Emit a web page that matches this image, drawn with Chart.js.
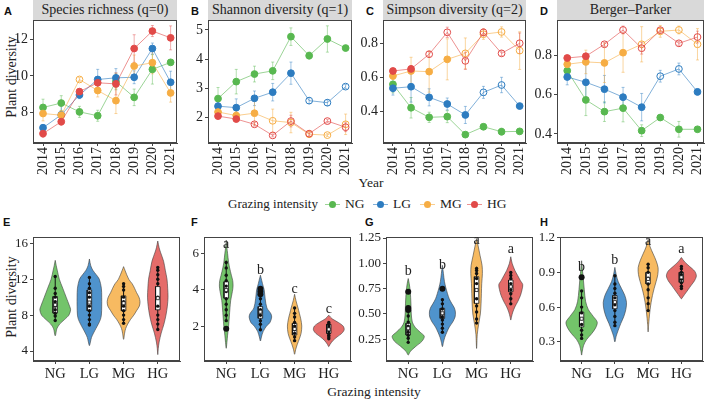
<!DOCTYPE html>
<html><head><meta charset="utf-8">
<script src="https://cdn.jsdelivr.net/npm/chart.js@4.4.0/dist/chart.umd.min.js"></script>
<style>
body{margin:0;background:#fff;width:706px;height:400px;position:relative;overflow:hidden;font-family:"Liberation Serif","Times New Roman",serif;color:#222}
canvas{position:absolute}
.strip{position:absolute;top:0;height:20px;background:#d9d9d9;font-size:14px;line-height:20px;text-align:center;color:#222;white-space:nowrap}
.pl{position:absolute;font-family:"Liberation Sans",Arial,sans-serif;font-weight:bold;font-size:11px;color:#111;line-height:11px}
.c{position:absolute;white-space:nowrap;transform:translate(-50%,-50%)}
.r{position:absolute;white-space:nowrap;transform:translate(-50%,-50%) rotate(-90deg)}
.lg{position:absolute;white-space:nowrap;font-size:13.5px;line-height:14px}
</style></head><body>
<div class="strip" style="left:33px;width:144px">Species richness (q=0)</div>
<div class="strip" style="left:208px;width:144px">Shannon diversity (q=1)</div>
<div class="strip" style="left:383px;width:143px">Simpson diversity (q=2)</div>
<div class="strip" style="left:557px;width:147px">Berger–Parker</div>
<div class="pl" style="left:4px;top:6px">A</div>
<div class="pl" style="left:191px;top:6px">B</div>
<div class="pl" style="left:366px;top:6px">C</div>
<div class="pl" style="left:540px;top:6px">D</div>
<div class="pl" style="left:3px;top:217px">E</div>
<div class="pl" style="left:191px;top:217px">F</div>
<div class="pl" style="left:365px;top:217px">G</div>
<div class="pl" style="left:540px;top:217px">H</div>
<div class="r" style="left:12px;top:77px;font-size:14px">Plant diversity</div>
<div class="r" style="left:12px;top:297px;font-size:14px">Plant diversity</div>
<div class="c" style="left:371px;top:183px;font-size:13.5px">Year</div>
<div class="c" style="left:374px;top:392px;font-size:13.5px">Grazing intensity</div>
<div id="legend"></div>
<canvas id="cA"></canvas><canvas id="cB"></canvas><canvas id="cC"></canvas><canvas id="cD"></canvas>
<canvas id="cE"></canvas><canvas id="cF"></canvas><canvas id="cG"></canvas><canvas id="cH"></canvas>
<script>
// ---------------- DATA ----------------
const years = [2014, 2015, 2016, 2017, 2018, 2019, 2020, 2021];
const groups = ['NG', 'LG', 'MG', 'HG'];

// Panel A: species richness (q=0) — means and error (se)
const A_NG = [8.29, 8.53, 8.05, 7.84, 9.70, 8.84, 10.36, 10.74];
const A_LG = [7.19, 7.89, 8.97, 9.81, 9.90, 9.93, 11.49, 9.66];
const A_MG = [7.96, 7.87, 9.81, 9.21, 8.66, 10.54, 10.72, 9.08];
const A_HG = [6.87, 7.52, 9.15, 9.63, 9.57, 11.49, 12.44, 12.07];
const A_NG_err = [0.45, 0.4, 0.3, 0.3, 0.45, 0.45, 0.8, 0.1];
const A_LG_err = [0.15, 0.5, 0.2, 0.55, 0.5, 0.35, 0.3, 0.6];
const A_MG_err = [0.4, 0.25, 0.1, 0.35, 0.7, 0.6, 0.6, 0.5];
const A_HG_err = [0.2, 0.2, 0.15, 0.25, 0.6, 0.75, 0.3, 0.65];
const A_open = [[0,0,0,0,0,0,0,0],[0,0,0,0,0,0,0,0],[0,0,1,0,0,0,0,0],[0,0,0,0,0,0,0,0]];

// Panel B: Shannon diversity (q=1)
const B_NG = [2.65, 3.23, 3.49, 3.60, 4.77, 4.12, 4.69, 4.38];
const B_LG = [2.39, 2.34, 2.66, 2.87, 3.52, 2.58, 2.51, 3.06];
const B_MG = [2.19, 2.07, 2.15, 1.89, 1.83, 1.43, 1.40, 1.77];
const B_HG = [2.05, 1.95, 1.77, 1.39, 1.88, 1.45, 1.88, 1.67];
const B_NG_err = [0.38, 0.42, 0.27, 0.3, 0.3, 0.12, 0.45, 0.05];
const B_LG_err = [0.12, 0.3, 0.25, 0.3, 0.38, 0.1, 0.1, 0.07];
const B_MG_err = [0.12, 0.15, 0.4, 0.4, 0.35, 0.1, 0.05, 0.35];
const B_HG_err = [0.05, 0.08, 0.06, 0.05, 0.2, 0.08, 0.06, 0.15];
const B_open = [[0,0,0,0,0,0,0,0],[0,0,0,0,0,1,1,1],[0,0,0,1,1,1,1,1],[0,0,1,1,1,1,1,1]];

// Panel C: Simpson diversity (q=2)
const C_NG = [0.560, 0.423, 0.367, 0.371, 0.266, 0.312, 0.283, 0.285];
const C_LG = [0.537, 0.546, 0.484, 0.445, 0.381, 0.513, 0.556, 0.433];
const C_MG = [0.609, 0.638, 0.634, 0.706, 0.741, 0.853, 0.866, 0.757];
const C_HG = [0.638, 0.650, 0.736, 0.864, 0.697, 0.864, 0.741, 0.800];
const C_NG_err = [0.05, 0.06, 0.03, 0.035, 0.015, 0.01, 0.02, 0.01];
const C_LG_err = [0.04, 0.09, 0.05, 0.035, 0.05, 0.035, 0.045, 0.01];
const C_MG_err = [0.02, 0.08, 0.12, 0.12, 0.09, 0.03, 0.03, 0.11];
const C_HG_err = [0.01, 0.02, 0.015, 0.03, 0.05, 0.02, 0.015, 0.06];
const C_open = [[0,0,0,0,0,0,0,0],[0,0,0,0,0,1,1,0],[0,0,0,0,1,1,1,1],[0,0,1,1,1,1,1,1]];

// Panel D: Berger–Parker
const D_NG = [0.723, 0.574, 0.514, 0.532, 0.417, 0.484, 0.424, 0.424];
const D_LG = [0.691, 0.664, 0.629, 0.588, 0.537, 0.695, 0.732, 0.615];
const D_MG = [0.756, 0.768, 0.763, 0.815, 0.858, 0.924, 0.931, 0.858];
const D_HG = [0.788, 0.797, 0.858, 0.931, 0.838, 0.930, 0.863, 0.895];
const D_NG_err = [0.01, 0.08, 0.05, 0.07, 0.03, 0.015, 0.04, 0.01];
const D_LG_err = [0.04, 0.1, 0.07, 0.05, 0.07, 0.03, 0.03, 0.015];
const D_MG_err = [0.02, 0.06, 0.1, 0.1, 0.09, 0.03, 0.02, 0.08];
const D_HG_err = [0.01, 0.01, 0.01, 0.02, 0.03, 0.01, 0.01, 0.03];
const D_open = [[0,0,0,0,0,0,0,0],[0,0,0,0,0,1,1,0],[0,0,0,0,1,1,1,1],[0,0,1,1,1,1,1,1]];

// Top-row y ticks
const A_ticks = [8, 10, 12], A_tickLabels = ['8', '10', '12'];
const B_ticks = [2, 3, 4, 5], B_tickLabels = ['2', '3', '4', '5'];
const C_ticks = [0.4, 0.6, 0.8], C_tickLabels = ['0.4', '0.6', '0.8'];
const D_ticks = [0.4, 0.6, 0.8], D_tickLabels = ['0.4', '0.6', '0.8'];

// Violin outlines: y levels (top→bottom) and half-widths, per group NG, LG, MG, HG
const E_vioY = [[14.1,13.5,13,12,11,10,9,8.6,8,7.5,7,6.5,5.7],
                [14.25,13.5,13,12.5,12,11,10,9,8,7.5,7,6.5,6,5.5,5,4.6],
                [13.4,13,12,11.5,11,10.5,10,9.5,9,8.5,8,7.5,7,6.5,6,5.3],
                [16.25,15.5,15,14,13,12,11,10,9,8,7,6,5,4.3,3.6]];
const E_vioW = [[0,0.03,0.06,0.12,0.22,0.32,0.42,0.45,0.4,0.27,0.13,0.05,0],
                [0,0.04,0.1,0.2,0.29,0.35,0.36,0.36,0.35,0.32,0.26,0.19,0.12,0.06,0.03,0],
                [0,0.04,0.15,0.25,0.32,0.38,0.45,0.48,0.46,0.38,0.3,0.2,0.12,0.06,0.03,0],
                [0,0.04,0.08,0.17,0.22,0.27,0.29,0.3,0.28,0.24,0.18,0.1,0.04,0.015,0]];
const F_vioY = [[6.73,6.3,6,5.5,5.2,4.8,4.5,4.2,3.9,3.4,3,2.5,2,1.5,1.1,0.78],
                [4.8,4.5,4.2,4,3.5,3,2.7,2.5,2.2,2,1.7,1.4,1.18],
                [3.75,3.4,3,2.7,2.4,2,1.6,1.3,1,0.7,0.45],
                [2.6,2.4,2.2,2,1.8,1.6,1.4,1.2,1,0.87]];
const F_vioW = [[0,0.02,0.04,0.07,0.1,0.15,0.19,0.2,0.18,0.13,0.11,0.09,0.07,0.04,0.02,0],
                [0,0.04,0.08,0.11,0.14,0.19,0.3,0.33,0.28,0.18,0.08,0.03,0],
                [0,0.04,0.1,0.14,0.18,0.21,0.19,0.14,0.08,0.03,0],
                [0,0.1,0.28,0.42,0.45,0.38,0.24,0.12,0.04,0]];
const G_vioY = [[0.85,0.8,0.72,0.6,0.5,0.42,0.37,0.32,0.28,0.23,0.18,0.13,0.095],
                [0.98,0.9,0.82,0.76,0.7,0.65,0.6,0.56,0.52,0.47,0.42,0.37,0.32,0.27,0.22,0.177],
                [1.245,1.18,1.08,0.98,0.9,0.8,0.7,0.6,0.5,0.4,0.3,0.16],
                [1.065,1.0,0.93,0.88,0.83,0.79,0.74,0.68,0.62,0.57,0.52,0.47,0.44]];
const G_vioW = [[0,0.03,0.06,0.08,0.09,0.12,0.2,0.35,0.47,0.4,0.22,0.06,0],
                [0,0.03,0.06,0.1,0.15,0.2,0.28,0.35,0.38,0.37,0.3,0.2,0.13,0.07,0.03,0],
                [0,0.04,0.1,0.16,0.17,0.15,0.14,0.13,0.11,0.06,0.02,0],
                [0,0.04,0.12,0.2,0.28,0.35,0.33,0.28,0.2,0.12,0.06,0.02,0]];
const H_vioY = [[1.0,0.93,0.85,0.75,0.65,0.58,0.52,0.47,0.42,0.37,0.32,0.27,0.22,0.186],
                [0.943,0.88,0.82,0.76,0.7,0.64,0.58,0.52,0.46,0.4,0.35,0.3],
                [1.186,1.12,1.06,1.0,0.94,0.88,0.82,0.76,0.7,0.64,0.58,0.5,0.45,0.386],
                [1.028,0.99,0.95,0.91,0.87,0.83,0.79,0.75,0.71,0.69,0.672]];
const H_vioW = [[0,0.02,0.05,0.08,0.12,0.2,0.35,0.47,0.42,0.3,0.15,0.06,0.02,0],
                [0,0.04,0.1,0.2,0.3,0.35,0.33,0.27,0.18,0.1,0.04,0],
                [0,0.06,0.15,0.24,0.3,0.29,0.24,0.18,0.13,0.09,0.06,0.03,0.015,0],
                [0,0.1,0.25,0.4,0.45,0.4,0.3,0.2,0.1,0.05,0]];

// Box stats: [lower whisker, Q1, median, Q3, upper whisker]
const E_box = [[7.37,8.22,9.14,10.07,12.4],[6.85,8.48,9.4,10.8,12.2],[7.1,8.48,9.33,10.14,11.55],[6.37,8.59,9.89,11.18,13.4]];
const F_box = [[2.34,3.53,3.98,4.44,5.6],[1.78,2.43,2.79,3.07,4.17],[1.18,1.51,1.84,2.15,3.01],[1.33,1.6,1.82,2.1,2.24]];
const G_box = [[0.21,0.292,0.359,0.408,0.556],[0.31,0.457,0.507,0.556,0.655],[0.408,0.605,0.737,0.868,0.967],[0.589,0.72,0.77,0.835,0.917]];
const H_box = [[0.329,0.429,0.5,0.557,0.743],[0.443,0.586,0.643,0.7,0.871],[0.572,0.8,0.843,0.9,0.972],[0.757,0.814,0.857,0.9,0.957]];

// Observations (small dots) and outliers (large dots)
const E_pts = [[12.3,11.0,10.4,10.0,9.5,9.0,8.6,8.2,7.9,7.4],[12.2,11.5,11.0,10.5,10.0,9.0,8.5,8.0,7.5,7.0,6.9],[11.5,11.2,10.8,10.0,9.5,9.0,8.5,8.0,7.5,7.1],[13.3,13.0,12.5,12.0,11.5,10.0,9.0,8.0,7.5,7.0,6.4]];
const E_out = [[],[],[],[]];
const F_pts = [[5.5,5.2,4.8,4.5,4.2,3.9,3.5,3.2,2.9,2.6,2.3],[4.05,3.95,3.85,3.7,3.5,3.2,2.9,2.6,2.3,2.1,1.8],[3.0,2.7,2.5,2.2,2.0,1.8,1.6,1.4,1.2],[2.2,2.1,2.0,1.9,1.75,1.6,1.5,1.4,1.3]];
const F_out = [[1.85],[4.05,3.9,3.75],[],[]];
const G_pts = [[0.48,0.42,0.38,0.35,0.32,0.29,0.26,0.22],[0.64,0.6,0.55,0.5,0.47,0.44,0.4,0.36,0.32],[0.95,0.93,0.9,0.85,0.8,0.65,0.58,0.52,0.45,0.41],[0.91,0.88,0.85,0.8,0.77,0.74,0.7,0.65,0.6]];
const G_out = [[0.72,0.56,0.54],[0.75],[],[]];
const H_pts = [[0.74,0.68,0.6,0.55,0.5,0.45,0.4,0.36,0.33],[0.87,0.8,0.76,0.72,0.68,0.62,0.57,0.52,0.47,0.44],[0.97,0.94,0.9,0.85,0.8,0.75,0.68,0.63,0.57],[0.95,0.93,0.9,0.88,0.86,0.84,0.81,0.78,0.76]];
const H_out = [[0.857],[],[],[]];

// Significance letters and their heights
const F_letters = ['a','b','c','c'], F_letterY = [6.5, 5.08, 4.04, 2.94];
const G_letters = ['b','b','a','a'], G_letterY = [0.917, 0.983, 1.223, 1.138];
const H_letters = ['b','b','a','a'], H_letterY = [0.943, 1.0, 1.171, 1.1];

// Bottom-row y ticks
const E_ticks = [4, 8, 12, 16], E_tickLabels = ['4', '8', '12', '16'];
const F_ticks = [2, 4, 6], F_tickLabels = ['2', '4', '6'];
const G_ticks = [0.25, 0.5, 0.75, 1.0, 1.25], G_tickLabels = ['0.25', '0.50', '0.75', '1.00', '1.25'];
const H_ticks = [0.3, 0.6, 0.9, 1.2], H_tickLabels = ['0.3', '0.6', '0.9', '1.2'];

// ---------------- STYLE ----------------
const SERIF = '"Liberation Serif", "Times New Roman", serif';
const COL = ['rgb(88,184,80)', 'rgb(45,124,192)', 'rgb(246,173,68)', 'rgb(225,74,72)'];
const LINE = ['rgba(88,184,80,0.6)', 'rgba(45,124,192,0.6)', 'rgba(246,173,68,0.6)', 'rgba(225,74,72,0.6)'];
const ERR = ['rgba(88,184,80,0.45)', 'rgba(45,124,192,0.45)', 'rgba(246,173,68,0.5)', 'rgba(225,74,72,0.45)'];
const VIO = ['rgba(100,190,90,0.9)', 'rgba(60,135,200,0.9)', 'rgba(246,178,80,0.9)', 'rgba(226,92,90,0.9)'];

Chart.defaults.font.family = SERIF;
Chart.defaults.color = '#222';

const framePlugin = {
  id: 'frame',
  afterDatasetsDraw(chart) {
    const a = chart.chartArea, ctx = chart.ctx;
    ctx.save(); ctx.strokeStyle = '#444'; ctx.lineWidth = 1;
    ctx.strokeRect(Math.round(a.left) + 0.5, Math.round(a.top) + 0.5, Math.round(a.right - a.left) - 1, Math.round(a.bottom - a.top) - 1);
    ctx.restore();
  }
};
const errPlugin = {
  id: 'errbars',
  beforeDatasetsDraw(chart, args, opts) {
    if (!opts || !opts.sets) return;
    const ctx = chart.ctx, xs = chart.scales.x, ys = chart.scales.y;
    ctx.save(); ctx.lineWidth = 1;
    for (const s of opts.sets) {
      ctx.strokeStyle = s.color;
      for (let i = 0; i < s.xv.length; i++) {
        const x = xs.getPixelForValue(s.xv[i]);
        const y1 = ys.getPixelForValue(s.v[i] - s.e[i]);
        const y2 = ys.getPixelForValue(s.v[i] + s.e[i]);
        ctx.beginPath();
        ctx.moveTo(x, y1); ctx.lineTo(x, y2);
        ctx.moveTo(x - 1.5, y1); ctx.lineTo(x + 1.5, y1);
        ctx.moveTo(x - 1.5, y2); ctx.lineTo(x + 1.5, y2);
        ctx.stroke();
      }
    }
    ctx.restore();
  }
};
const letterPlugin = {
  id: 'letters',
  afterDatasetsDraw(chart, args, opts) {
    if (!opts || !opts.text) return;
    const ctx = chart.ctx, xs = chart.scales.x, ys = chart.scales.y;
    ctx.save(); ctx.fillStyle = '#222'; ctx.font = '14px ' + SERIF;
    ctx.textAlign = 'center'; ctx.textBaseline = 'middle';
    opts.text.forEach((t, i) => ctx.fillText(t, xs.getPixelForValue(i), ys.getPixelForValue(opts.y[i])));
    ctx.restore();
  }
};
Chart.register(framePlugin, errPlugin, letterPlugin);

function tickLabel(ticks, labels) {
  return v => { const i = ticks.findIndex(t => Math.abs(t - v) < 1e-9); return i >= 0 ? labels[i] : ''; };
}

function setupCanvas(id, g, yW, xH, padTop, padRight) {
  const cv = document.getElementById(id);
  cv.width = yW + (g.R - g.L) + padRight;
  cv.height = padTop + (g.B - g.T) + xH;
  cv.style.left = (g.L - yW) + 'px';
  cv.style.top = (g.T - padTop) + 'px';
  cv.style.width = cv.width + 'px'; cv.style.height = cv.height + 'px';
  return cv;
}

function axes(yW, xH, xMin, xMax, xTicks, xLabelFn, xFont, xRot, yMin, yMax, yTicks, yLabels, yFont) {
  return {
    x: {
      type: 'linear', min: xMin, max: xMax,
      afterBuildTicks: s => { s.ticks = xTicks.map(v => ({ value: v })); },
      afterFit: s => { s.height = xH; s.paddingLeft = 0; s.paddingRight = 0; },
      ticks: { autoSkip: false, minRotation: xRot, maxRotation: xRot, padding: 1, font: { family: SERIF, size: xFont }, color: '#222', callback: xLabelFn },
      grid: { display: true, drawOnChartArea: false, drawTicks: true, tickLength: 3, color: '#444' },
      border: { display: true, color: '#444' }
    },
    y: {
      type: 'linear', min: yMin, max: yMax,
      afterBuildTicks: s => { s.ticks = yTicks.map(v => ({ value: v })); },
      afterFit: s => { s.width = yW; s.paddingTop = 0; s.paddingBottom = 0; },
      ticks: { padding: 2, font: { family: SERIF, size: yFont }, color: '#222', callback: tickLabel(yTicks, yLabels) },
      grid: { display: true, drawOnChartArea: false, drawTicks: true, tickLength: 3, color: '#444' },
      border: { display: true, color: '#444' }
    }
  };
}

function topChart(id, g, series, errs, open, yMin, yMax, yTicks, yLabels) {
  const yW = 30, xH = 40, padTop = 10, padRight = 6;
  const cv = setupCanvas(id, g, yW, xH, padTop, padRight);
  const datasets = series.map((vals, k) => ({
    data: years.map((yr, i) => ({ x: yr, y: vals[i] })),
    showLine: true, borderColor: LINE[k], borderWidth: 1,
    pointRadius: 3.4, pointBorderWidth: 1,
    pointBackgroundColor: open[k].map(o => o ? 'rgba(255,255,255,0)' : COL[k]),
    pointBorderColor: COL[k], order: 3 - k
  }));
  new Chart(cv, {
    type: 'scatter',
    data: { datasets },
    options: {
      responsive: false, animation: false, events: [],
      layout: { padding: { top: padTop, right: padRight, left: 0, bottom: 0 } },
      plugins: { legend: { display: false }, tooltip: { enabled: false },
        errbars: { sets: series.map((vals, k) => ({ xv: years, v: vals, e: errs[k], color: ERR[k] })) } },
      scales: axes(yW, xH, 2013.45, 2021.35, years, v => String(v), 14, 90, yMin, yMax, yTicks, yLabels, 14)
    }
  });
}

function bottomChart(id, g, vioY, vioW, box, pts, outs, yMin, yMax, yTicks, yLabels, letters, letterY) {
  const yW = 30, xH = 22, padTop = 10, padRight = 6;
  const cv = setupCanvas(id, g, yW, xH, padTop, padRight);
  const datasets = [];
  const bw = 0.065;
  groups.forEach((name, k) => {
    const right = vioY[k].map((y, i) => ({ x: k + vioW[k][i], y }));
    const left = vioY[k].map((y, i) => ({ x: k - vioW[k][i], y })).reverse();
    datasets.push({ data: right.concat(left.slice(1)), showLine: true, fill: 'shape', tension: 0.3,
      backgroundColor: VIO[k], borderColor: 'rgba(60,60,60,0.85)', borderWidth: 0.7, pointRadius: 0, order: 10 });
    const b = box[k];
    datasets.push({ data: [{ x: k, y: b[0] }, { x: k, y: b[4] }], showLine: true, borderColor: '#111', borderWidth: 1, pointRadius: 0, order: 9 });
    datasets.push({ data: [{ x: k - bw, y: b[1] }, { x: k + bw, y: b[1] }, { x: k + bw, y: b[3] }, { x: k - bw, y: b[3] }, { x: k - bw, y: b[1] }],
      showLine: true, fill: 'shape', backgroundColor: '#fff', borderColor: '#111', borderWidth: 0.8, pointRadius: 0, order: 8 });
    datasets.push({ data: pts[k].map(v => ({ x: k, y: v })), pointRadius: 1.7, pointBackgroundColor: '#111', pointBorderWidth: 0, order: 7 });
    datasets.push({ data: outs[k].map(v => ({ x: k, y: v })), pointRadius: 3, pointBackgroundColor: '#111', pointBorderWidth: 0, order: 7 });
    datasets.push({ data: [{ x: k, y: b[2] }], pointStyle: 'rect', pointRadius: 2.2, pointBackgroundColor: '#fff', pointBorderColor: '#111', pointBorderWidth: 0.8, order: 6 });
  });
  new Chart(cv, {
    type: 'scatter',
    data: { datasets },
    options: {
      responsive: false, animation: false, events: [],
      layout: { padding: { top: padTop, right: padRight, left: 0, bottom: 0 } },
      plugins: { legend: { display: false }, tooltip: { enabled: false },
        letters: letters ? { text: letters, y: letterY } : {} },
      scales: axes(yW, xH, -0.65, 3.65, [0, 1, 2, 3], v => groups[v] || '', 14.5, 0, yMin, yMax, yTicks, yLabels, 13)
    }
  });
}

topChart('cA', { L: 33, R: 177, T: 20, B: 143 }, [A_NG, A_LG, A_MG, A_HG], [A_NG_err, A_LG_err, A_MG_err, A_HG_err], A_open, 6.36, 13.04, A_ticks, A_tickLabels);
topChart('cB', { L: 208, R: 352, T: 20, B: 143 }, [B_NG, B_LG, B_MG, B_HG], [B_NG_err, B_LG_err, B_MG_err, B_HG_err], B_open, 1.13, 5.34, B_ticks, B_tickLabels);
topChart('cC', { L: 383, R: 526, T: 20, B: 143 }, [C_NG, C_LG, C_MG, C_HG], [C_NG_err, C_LG_err, C_MG_err, C_HG_err], C_open, 0.217, 0.936, C_ticks, C_tickLabels);
topChart('cD', { L: 557, R: 704, T: 20, B: 143 }, [D_NG, D_LG, D_MG, D_HG], [D_NG_err, D_LG_err, D_MG_err, D_HG_err], D_open, 0.354, 0.982, D_ticks, D_tickLabels);

bottomChart('cE', { L: 33, R: 180, T: 237, B: 361 }, E_vioY, E_vioW, E_box, E_pts, E_out, 2.89, 16.7, E_ticks, E_tickLabels, null, null);
bottomChart('cF', { L: 204, R: 351, T: 237, B: 361 }, F_vioY, F_vioW, F_box, F_pts, F_out, 0.08, 6.9, F_ticks, F_tickLabels, F_letters, F_letterY);
bottomChart('cG', { L: 386, R: 533, T: 237, B: 361 }, G_vioY, G_vioW, G_box, G_pts, G_out, 0.036, 1.26, G_ticks, G_tickLabels, G_letters, G_letterY);
bottomChart('cH', { L: 560, R: 703, T: 237, B: 361 }, H_vioY, H_vioW, H_box, H_pts, H_out, 0.135, 1.205, H_ticks, H_tickLabels, H_letters, H_letterY);

// Legend (HTML)
(function () {
  const lg = document.getElementById('legend');
  let html = '<div class="lg" style="left:228px;top:197px;font-size:13px">Grazing intensity</div>';
  const xs = [325, 373, 420, 467];
  groups.forEach((name, k) => {
    const x = xs[k];
    html += `<div style="position:absolute;left:${x}px;top:204px;width:15px;height:1px;background:${LINE[k]}"></div>`;
    html += `<div style="position:absolute;left:${x + 4}px;top:201px;width:7px;height:7px;border-radius:50%;background:${COL[k]}"></div>`;
    html += `<div class="lg" style="left:${x + 20}px;top:197px">${name}</div>`;
  });
  lg.innerHTML = html;
})();
</script>
</body></html>
